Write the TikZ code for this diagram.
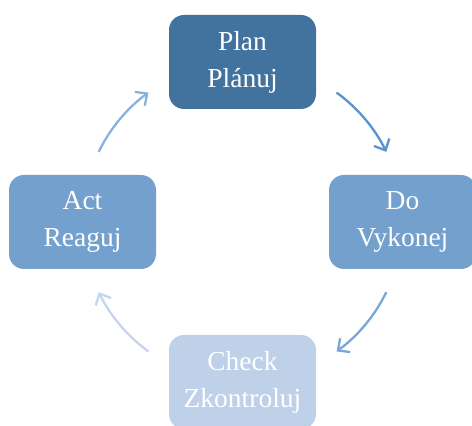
\documentclass[tikz,border=0pt]{standalone}
\usepackage{fontspec}
\setmainfont{Liberation Serif}
\usetikzlibrary{arrows.meta,calc}
\definecolor{plancol}{RGB}{66,114,158}
\definecolor{docol}{RGB}{116,160,205}
\definecolor{checkcol}{RGB}{190,209,233}
\definecolor{actcol}{RGB}{116,160,205}
\definecolor{arrA}{RGB}{88,146,207}
\definecolor{arrB}{RGB}{120,166,216}
\definecolor{arrC}{RGB}{196,213,237}
\definecolor{arrD}{RGB}{138,178,224}
\tikzset{
  stagebox/.style={rounded corners=15pt, minimum width=147pt, minimum height=94pt,
    text=white, align=center, font=\fontsize{27.5}{37}\selectfont, inner sep=0pt},
  cyclearrow/.style={line width=2.3pt, -{Straight Barb[length=9pt,width=17pt,line width=2.3pt]}}
}
\begin{document}
\begin{tikzpicture}[x=1pt,y=1pt]
\useasboundingbox (0,0) rectangle (472,426);
\clip (0,0) rectangle (472,426);
\coordinate (C) at (242.5,204);
\node[stagebox, fill=plancol] (plan) at (242.5,364) {Plan\\Plánuj};
\node[stagebox, fill=docol] (do) at (402.5,204) {Do\\Vykonej};
\node[stagebox, fill=checkcol] (check) at (242.5,44) {Check\\Zkontroluj};
\node[stagebox, fill=actcol] (act) at (82.5,204) {Act\\Reaguj};
\coordinate (pd) at ($(C)+(54:160)$);
\coordinate (dc) at ($(C)+(-26:160)$);
\coordinate (ca) at ($(C)+(-126:160)$);
\coordinate (ap) at ($(C)+(154:160)$);
\draw[cyclearrow, arrA] (pd) arc[start angle=54, end angle=26, radius=160];
\draw[cyclearrow, arrB] (dc) arc[start angle=-26, end angle=-54, radius=160];
\draw[cyclearrow, arrC] (ca) arc[start angle=-126, end angle=-154, radius=160];
\draw[cyclearrow, arrD] (ap) arc[start angle=154, end angle=126, radius=160];
\end{tikzpicture}
\end{document}
